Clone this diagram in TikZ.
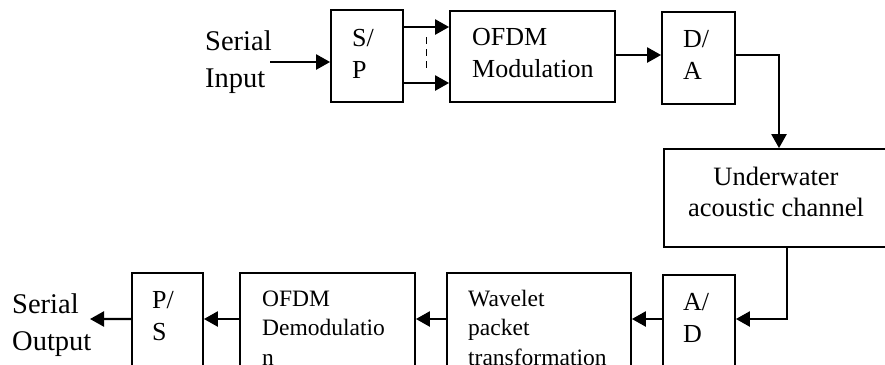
\documentclass[tikz,border=0pt]{standalone}
\usepackage{fontspec}
\setmainfont{Liberation Serif}
\usetikzlibrary{arrows.meta,calc}
\begin{document}
\begin{tikzpicture}[x=1bp,y=-1bp,
  box/.style={draw,line width=1.8bp,inner sep=0pt,rectangle},
  arr/.style={line width=2.4bp,-{Triangle[length=14bp,width=15bp]}},
  lbl/.style={anchor=base west,inner sep=0pt,align=left},
  big/.style={font=\fontsize{28.5bp}{37bp}\selectfont},
  mid/.style={font=\fontsize{26bp}{31.5bp}\selectfont},
  sml/.style={font=\fontsize{23.5bp}{29.5bp}\selectfont}]
\useasboundingbox (0,0) rectangle (885,364);
\clip (0,0) rectangle (885,364);
% boxes
\node[box,minimum width=72bp,minimum height=92bp] (sp) at (367,56) {};
\node[box,minimum width=165bp,minimum height=91bp] (mod) at (532.5,56.5) {};
\node[box,minimum width=73bp,minimum height=92bp] (da) at (698.5,58) {};
\node[box,minimum width=226bp,minimum height=98bp] (uw) at (777,198) {};
\node[box,minimum width=72bp,minimum height=100bp] (ad) at (699,325) {};
\node[box,minimum width=184bp,minimum height=100bp] (wp) at (539,323) {};
\node[box,minimum width=175bp,minimum height=100bp] (dem) at (327.5,323) {};
\node[box,minimum width=71bp,minimum height=100bp] (ps) at (167.5,323) {};
% texts (anchored at the baseline of the last line)
\node[lbl,big] (tin) at (205,87) {Serial\\Input};
\node[lbl,mid] (tsp) at (352,78) {S/\\P};
\node[lbl,mid] (tmod) at (472,77) {OFDM\\Modulation};
\node[lbl,mid] (tda) at (683,79) {D/\\A};
\node[anchor=base,inner sep=0pt,align=center,font=\fontsize{26.5bp}{31bp}\selectfont] (tuw) at (776,216) {Underwater\\acoustic channel};
\node[lbl,mid] (tad) at (683,342) {A/\\D};
\node[lbl,sml] (twp) at (468,365) {Wavelet\\packet\\transformation};
\node[lbl,sml] (tdem) at (262,365) {OFDM\\Demodulatio\\n};
\node[lbl,mid] (tps) at (152,340) {P/\\S};
\node[lbl,big] (tout) at (12,350) {Serial\\Output};
% connectors
\coordinate (inp) at (270,62);
\coordinate (outp) at (90,319);
\draw[arr] (inp) -- (inp -| sp.west);
\draw[arr] ([yshift=29bp]sp.east) -- ([yshift=29bp]sp.east -| mod.west);
\draw[arr] ([yshift=-27bp]sp.east) -- ([yshift=-27bp]sp.east -| mod.west);
\draw[line width=1.5bp,dash pattern=on 7bp off 5bp] ([yshift=19bp]$(sp.east)!.5!(mod.west)$) -- ([yshift=-16bp]$(sp.east)!.5!(mod.west)$);
\draw[arr] ([yshift=1.5bp]mod.east) -- ([yshift=1.5bp]mod.east -| da.west);
\draw[arr] ([yshift=3bp]da.east) -| ([xshift=2bp]uw.north);
\draw[arr] ([xshift=10bp]uw.south) |- ([yshift=6bp]ad.east);
\draw[arr] ([yshift=6bp]ad.west) -- ([yshift=6bp]ad.west -| wp.east);
\draw[arr] ([yshift=4bp]wp.west) -- ([yshift=4bp]wp.west -| dem.east);
\draw[arr] ([yshift=4bp]dem.west) -- ([yshift=4bp]dem.west -| ps.east);
\draw[arr] ([yshift=4bp]ps.west) -- (outp);
\end{tikzpicture}
\end{document}
